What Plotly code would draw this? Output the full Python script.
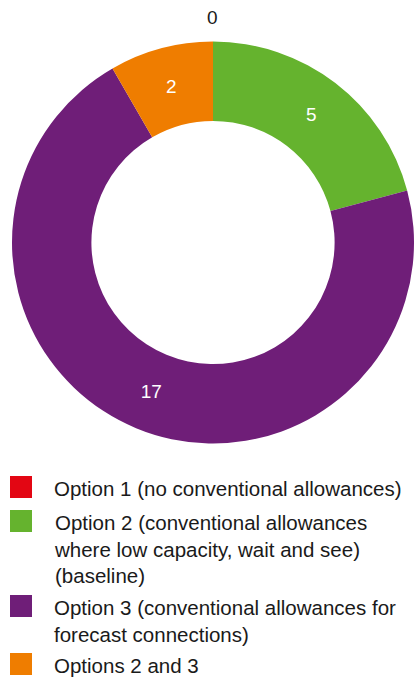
import plotly.graph_objects as go

W, H = 414, 677

categories = [
    "Option 1 (no conventional allowances)",
    "Option 2 (conventional allowances<br>where low capacity, wait and see)<br>(baseline)",
    "Option 3 (conventional allowances for<br>forecast connections)",
    "Options 2 and 3",
]
values = [0, 5, 17, 2]
colors = ["#e30613", "#65b32e", "#6f1e78", "#ef7d00"]

FONT = "Liberation Sans, Arial, Helvetica, sans-serif"

fig = go.Figure()
fig.add_trace(go.Pie(
    labels=categories,
    values=values,
    text=[str(v) for v in values],
    textinfo="text",
    textposition=["none" if v == 0 else "inside" for v in values],
    insidetextorientation="horizontal",
    insidetextfont=dict(color="white", size=19, family=FONT),
    marker=dict(colors=colors, line=dict(width=0)),
    hole=0.605,
    sort=False,
    direction="clockwise",
    rotation=0,
    showlegend=False,
    hoverinfo="label+value",
    domain=dict(x=[12 / W, 1.0], y=[1 - 444 / H, 1 - 41 / H]),
))

shapes = []
annotations = []

# zero-value slice label sits just outside the ring at 12 o'clock
for v in values:
    if v == 0:
        annotations.append(dict(text=str(v), xref="paper", yref="paper",
                                x=213 / W, y=1 - 18 / H, xanchor="center", yanchor="middle",
                                showarrow=False,
                                font=dict(size=19, color="#1a1a1a", family=FONT)))

# manual legend (large square swatches)
sq_tops = [476, 510, 595, 653]
for cat, col, st in zip(categories, colors, sq_tops):
    shapes.append(dict(type="rect", xref="paper", yref="paper",
                       x0=10 / W, x1=32 / W, y0=1 - (st + 22) / H, y1=1 - st / H,
                       fillcolor=col, line=dict(width=0)))
    annotations.append(dict(text=cat, xref="paper", yref="paper",
                            x=52 / W, y=1 - (st - 1) / H, xanchor="left", yanchor="top",
                            align="left", showarrow=False,
                            font=dict(size=20.5, color="#1a1a1a", family=FONT)))

fig.update_layout(
    width=W, height=H,
    margin=dict(l=0, r=0, t=0, b=0),
    paper_bgcolor="white", plot_bgcolor="white",
    shapes=shapes, annotations=annotations,
    font=dict(family=FONT),
)

fig.write_html("out.html", config={"displayModeBar": False},
               post_script="document.body.style.margin='0';document.body.style.overflow='hidden';")
